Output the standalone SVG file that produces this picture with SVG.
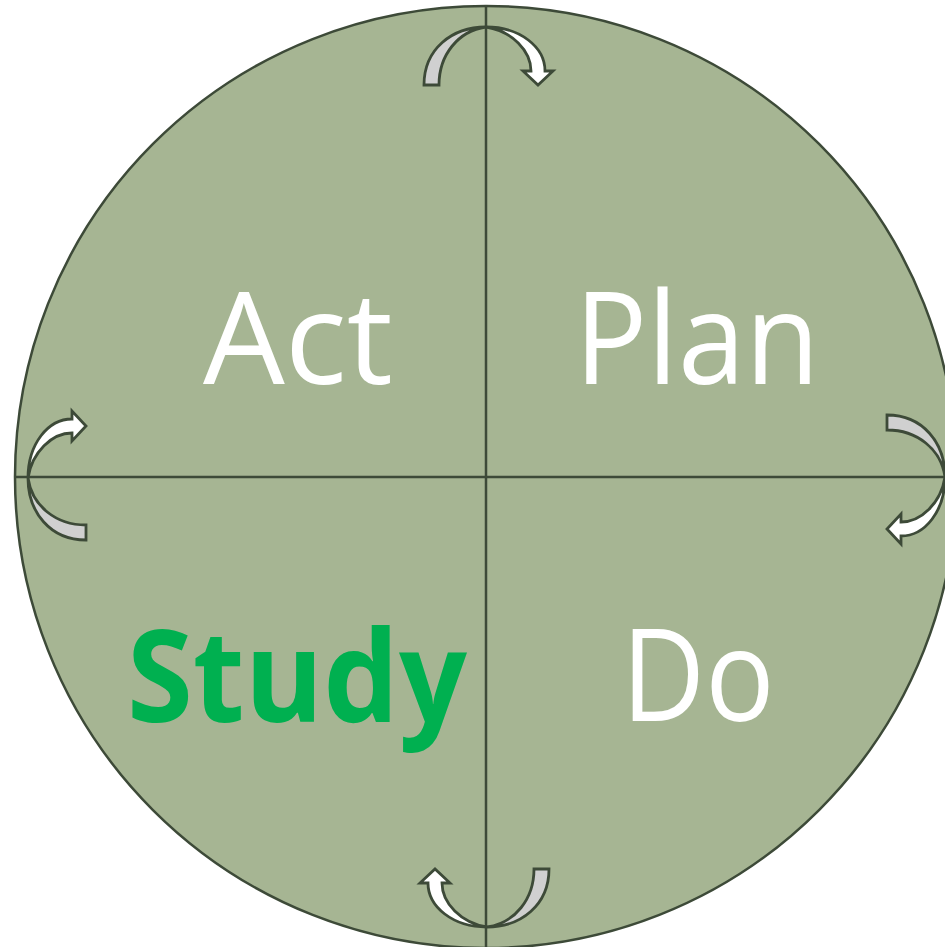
<svg xmlns="http://www.w3.org/2000/svg" xmlns:xlink="http://www.w3.org/1999/xlink" width="945" height="947" viewBox="0 0 945 947">
<style>
.ln{stroke:#3d4a38;stroke-width:2.5;fill:none}
.ar{stroke:#3d4a38;stroke-width:2.8;stroke-linejoin:miter}
.g{fill:#d0d0d0}
.w{fill:#ffffff}
.lbl{font-family:"Open Sans","Noto Sans",sans-serif;font-size:128px;text-anchor:middle;fill:#ffffff}
</style>
<defs>
<g id="carrow">
<path class="ar g" d="M-62,58 C-62,22 -34,0 0,0 C-28,4 -47,28 -47,58 Z"/>
<path class="ar w" d="M0,0 C34,0 59,20 59,44 L67,44 L52,58 L37,44 L45,44 C45,24 26,4 0,0 Z"/>
</g>
</defs>
<g id="circle">
<circle cx="486" cy="477" r="471" fill="#a6b593" stroke="#3d4a38" stroke-width="2.5"/>
</g>
<g id="arrows">
<use xlink:href="#carrow" transform="translate(486,27)"/>
<use xlink:href="#carrow" transform="translate(945,477) rotate(90)"/>
<use xlink:href="#carrow" transform="translate(487,927) rotate(180)"/>
<use xlink:href="#carrow" transform="translate(28,478) rotate(-90)"/>
</g>
<g id="connectors">
<line class="ln" x1="486" y1="5" x2="486" y2="947"/>
<line class="ln" x1="15" y1="477" x2="945" y2="477"/>
</g>
<g id="act"><text class="lbl" x="298" y="384" textLength="190" lengthAdjust="spacingAndGlyphs">Act</text></g>
<g id="plan"><text class="lbl" x="697" y="384" textLength="245" lengthAdjust="spacingAndGlyphs">Plan</text></g>
<g id="do"><text class="lbl" x="698" y="721" textLength="153" lengthAdjust="spacingAndGlyphs">Do</text></g>
<g id="study"><text class="lbl" x="297" y="722" font-weight="bold" style="fill:#00b050" textLength="340" lengthAdjust="spacingAndGlyphs">Study</text></g>
</svg>
